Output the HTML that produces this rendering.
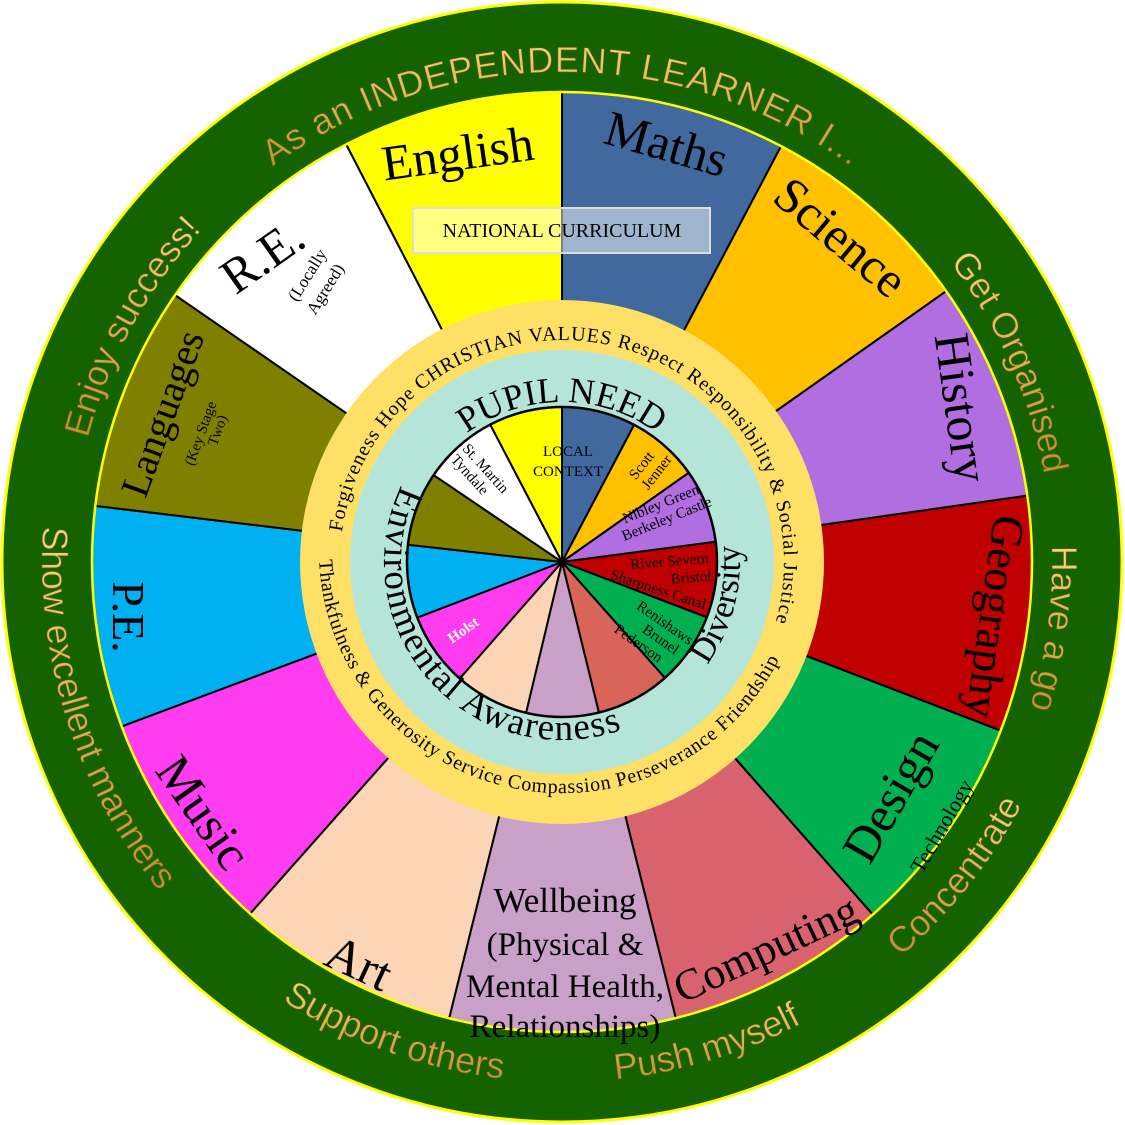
<!DOCTYPE html>
<html><head><meta charset="utf-8"><style>html,body{margin:0;padding:0;background:#fff;overflow:hidden;width:1125px;height:1125px}svg{display:block}</style></head>
<body>
<svg width="1125" height="1125" viewBox="0 0 1125 1125" xmlns="http://www.w3.org/2000/svg" overflow="hidden">
<defs>
<clipPath id="cOuter"><circle cx="562" cy="562" r="470"/></clipPath>
<clipPath id="cInner"><circle cx="562" cy="562" r="155"/></clipPath>
<linearGradient id="gold" x1="0" y1="0" x2="0" y2="1"><stop offset="0" stop-color="#f0d878"/><stop offset="1" stop-color="#b8922a"/></linearGradient>
<path id="cwO" d="M72,562 A490,490 0 1 1 1052,562 A490,490 0 1 1 72,562"/>
<path id="ccwO" d="M562,42 A520,520 0 1 0 562,1082 A520,520 0 1 0 562,42"/>
<path id="cwY" d="M340,562 A222,222 0 1 1 784,562 A222,222 0 1 1 340,562"/>
<path id="ccwY" d="M319,550 A243,243 0 1 0 805,550 A243,243 0 0 0 319,550"/>
<path id="cwP" d="M402,562 A160,160 0 1 1 722,562 A160,160 0 1 1 402,562"/>
<path id="ccwT" d="M562,384 A178,178 0 1 0 562,740 A178,178 0 1 0 562,384"/>
</defs>
<circle cx="562" cy="562" r="560" fill="#156300" stroke="#ffff00" stroke-width="3"/>
<g clip-path="url(#cOuter)" stroke="#000" stroke-width="2">
<polygon points="562,562 134,-266 562,-368" fill="#ffff00"/>
<polygon points="562,562 562,-368 994,-258" fill="#41699d"/>
<polygon points="562,562 994,-258 1328,22" fill="#ffc000"/>
<polygon points="562,562 1328,22 1502,428" fill="#b06ee0"/>
<polygon points="562,562 1502,428 1462,908" fill="#c00000"/>
<polygon points="562,562 1462,908 1202,1288" fill="#00b050"/>
<polygon points="562,562 1202,1288 798,1508" fill="#d9626f"/>
<polygon points="562,562 798,1508 328,1508" fill="#c8a0c8"/>
<polygon points="562,562 328,1508 -82,1288" fill="#fbd5b5"/>
<polygon points="562,562 -82,1288 -338,898" fill="#ff3cf0"/>
<polygon points="562,562 -338,898 -386,448" fill="#00b0f0"/>
<polygon points="562,562 -386,448 -212,28" fill="#808000"/>
<polygon points="562,562 -212,28 134,-266" fill="#ffffff"/>
</g>
<circle cx="562" cy="562" r="470" fill="none" stroke="#ffff00" stroke-width="2.5"/>
<circle cx="562" cy="562" r="262" fill="#ffe066"/>
<circle cx="562" cy="562" r="212" fill="#b5e5d8"/>
<g clip-path="url(#cInner)" stroke="#000" stroke-width="2">
<polygon points="562,562 562,252 704,292" fill="#41699d"/>
<polygon points="562,562 704,292 812,386" fill="#ffc000"/>
<polygon points="562,562 812,386 866,522" fill="#b06ee0"/>
<polygon points="562,562 866,522 850,672" fill="#c00000"/>
<polygon points="562,562 850,672 768,794" fill="#00b050"/>
<polygon points="562,562 768,794 636,864" fill="#d9645a"/>
<polygon points="562,562 636,864 490,864" fill="#c8a0c8"/>
<polygon points="562,562 490,864 360,792" fill="#fbd5b5"/>
<polygon points="562,562 360,792 276,672" fill="#ff3cf0"/>
<polygon points="562,562 276,672 258,528" fill="#00b0f0"/>
<polygon points="562,562 258,528 308,390" fill="#808000"/>
<polygon points="562,562 308,390 420,290" fill="#ffffff"/>
<polygon points="562,562 420,290 562,252" fill="#ffff00"/>
</g>
<circle cx="562" cy="562" r="155" fill="none" stroke="#000" stroke-width="2.5"/>

<g font-family="Liberation Sans, sans-serif" font-size="36" fill="url(#gold)" stroke="#6b5510" stroke-width="0.6">
<text><textPath href="#cwO" startOffset="770" text-anchor="middle" letter-spacing="1">As an INDEPENDENT LEARNER I...</textPath></text>
<text><textPath href="#cwO" startOffset="1334" text-anchor="middle">Get Organised</textPath></text>
<text><textPath href="#cwO" startOffset="1605" text-anchor="middle">Have a go</textPath></text>
<text><textPath href="#cwO" startOffset="245" text-anchor="middle">Enjoy success!</textPath></text>
<text><textPath href="#ccwO" startOffset="977" text-anchor="middle">Show excellent manners</textPath></text>
<text><textPath href="#ccwO" startOffset="1456" text-anchor="middle">Support others</textPath></text>
<text><textPath href="#ccwO" startOffset="1785" text-anchor="middle">Push myself</textPath></text>
<text><textPath href="#ccwO" startOffset="2100" text-anchor="middle">Concentrate</textPath></text>
</g>

<g font-family="Liberation Serif, serif" font-size="20" fill="#000">
<text><textPath href="#cwY" startOffset="30" textLength="728" lengthAdjust="spacing">Forgiveness Hope CHRISTIAN VALUES Respect Responsibility &amp; Social Justice</textPath></text>
<text><textPath href="#ccwY" startOffset="10" textLength="640" lengthAdjust="spacing">Thankfulness &amp; Generosity Service Compassion Perseverance Friendship</textPath></text>
</g>
<g font-family="Liberation Serif, serif" fill="#000">
<text font-size="36"><textPath href="#cwP" startOffset="251" text-anchor="middle">PUPIL NEED</textPath></text>
<text font-size="37"><textPath href="#ccwT" startOffset="200" textLength="420" lengthAdjust="spacing">Environmental Awareness</textPath></text>
<text font-size="34"><textPath href="#ccwT" startOffset="792" text-anchor="middle">Diversity</textPath></text>
</g>

<g font-family="Liberation Serif, serif" font-size="15" fill="#000" text-anchor="middle">
<text x="568" y="456">LOCAL</text>
<text x="568" y="476">CONTEXT</text>
<g transform="translate(650,472) rotate(-52)"><text x="0" y="-6">Scott</text><text x="4" y="10">Jenner</text></g>
<g transform="translate(664,512) rotate(-22)"><text x="0" y="-4">Nibley Green</text><text x="0" y="12">Berkeley Castle</text></g>
<g transform="translate(670,566) rotate(-5)"><text x="0" y="0">River Severn</text><text x="20" y="18">Bristol</text></g>
<g transform="translate(657,594) rotate(18)"><text x="0" y="0">Sharpness Canal</text></g>
<g transform="translate(660,630) rotate(35)"><text x="0" y="-4">Renishaws</text><text x="6" y="12">Brunel</text><text x="-10" y="28">Pederson</text></g>
<g transform="translate(478,470) rotate(48)"><text x="4" y="-2">St. Martin</text><text x="-2" y="14">Tyndale</text></g>
<g transform="translate(466,634) rotate(-35)"><text x="0" y="0" fill="#fff" font-weight="bold">Holst</text></g>
</g>

<rect x="413" y="208" width="297" height="45" fill="rgba(255,255,255,0.5)" stroke="#ddd" stroke-width="2"/>
<text x="562" y="237" font-family="Liberation Serif, serif" font-size="20" text-anchor="middle">NATIONAL CURRICULUM</text>

<g font-family="Liberation Serif, serif" fill="#000" text-anchor="middle">
<text transform="translate(460,170) rotate(-8)" font-size="50">English</text>
<text transform="translate(662,160) rotate(16)" font-size="50">Maths</text>
<text transform="translate(830,250) rotate(40)" font-size="50">Science</text>
<text transform="translate(945,410) rotate(82)" font-size="50">History</text>
<text transform="translate(980,615) rotate(98)" font-size="46">Geography</text>
<text transform="translate(905,805) rotate(-60)" font-size="50">Design</text>
<text transform="translate(948,830) rotate(-60)" font-size="22">Technology</text>
<text transform="translate(772,962) rotate(-25)" font-size="44">Computing</text>
<text x="565" y="912" font-size="35">Wellbeing</text>
<text x="565" y="955" font-size="33">(Physical &amp;</text>
<text x="565" y="997" font-size="33">Mental Health,</text>
<text x="565" y="1037" font-size="33">Relationships)</text>
<text transform="translate(352,978) rotate(25)" font-size="50">Art</text>
<text transform="translate(190,822) rotate(55)" font-size="50">Music</text>
<text transform="translate(113,617) rotate(90)" font-size="46">P.E.</text>
<text transform="translate(175,418) rotate(-70)" font-size="40">Languages</text>
<text transform="translate(205,435) rotate(-70)" font-size="15">(Key Stage</text>
<text transform="translate(222,432) rotate(-70)" font-size="15">Two)</text>
<text transform="translate(272,270) rotate(-35)" font-size="50">R.E.</text>
<text transform="translate(312,278) rotate(-58)" font-size="17">(Locally</text>
<text transform="translate(330,292) rotate(-58)" font-size="17">Agreed)</text>
</g>
</svg>
</body></html>
